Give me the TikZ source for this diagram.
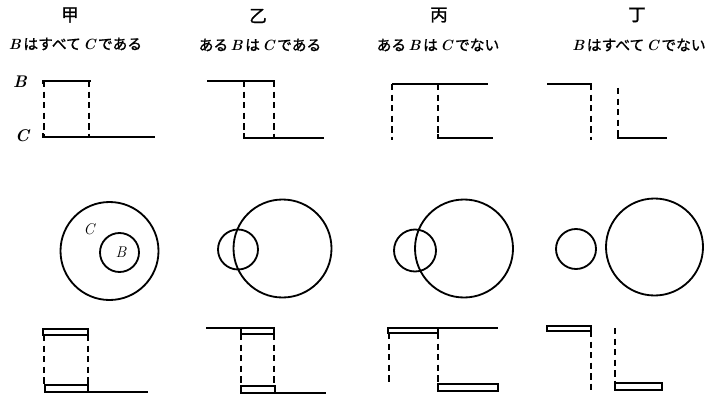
\documentclass[tikz,border=0pt]{standalone}
\usepackage{fontspec}
\newfontfamily\jpfont{Noto Sans CJK JP}[FakeBold=1.2]
\newcommand{\lv}[1]{{\normalfont\bfseries\itshape #1}}
\tikzset{
  bar/.style   = {line width=1.4pt},
  dline/.style = {line width=1.4pt, dash pattern=on 4.5pt off 3pt},
  dbl/.style   = {line width=1.1pt},
  ring/.style  = {line width=1.3pt},
  ttl/.style   = {font=\jpfont\fontsize{12.5}{13}\selectfont, inner sep=0pt},
  sub/.style   = {font=\jpfont\fontsize{10.5}{12}\selectfont, inner sep=0pt},
  lbl/.style   = {font=\fontsize{12}{12}\selectfont, inner sep=0pt},
}

\begin{document}
\begin{tikzpicture}[x=0.025cm, y=-0.025cm]
  \useasboundingbox (0,0) rectangle (707,400);
  % titles
  \node[ttl] (tA) at (70,15)  {甲};
  \node[ttl] (tB) at (258,16) {乙};
  \node[ttl] (tC) at (439,15) {丙};
  \node[ttl] (tD) at (637,15) {丁};
  \node[sub] (sA) at (75.5,44) {\lv{B}\,はすべて\,\lv{C}\,である};
  \node[sub] (sB) at (260,45)  {ある\,\lv{B}\,は\,\lv{C}\,である};
  \node[sub] (sC) at (438,45)  {ある\,\lv{B}\,は\,\lv{C}\,でない};
  \node[sub] (sD) at (639,45)  {\lv{B}\,はすべて\,\lv{C}\,でない};
  % top row: line diagrams
  \node[lbl] (lB) at (20,82)  {\lv{B}};
  \node[lbl] (lC) at (22,136) {\lv{C}};
  \draw[bar] (43,84) -- (43,81) -- (91,81);
  \draw[dline] (44,81) -- (44,137);
  \draw[dline] (89,81) -- (89,137);
  \draw[bar] (43,133) -- (43,137) -- (155,137);
  \draw[bar] (207,81) -- (275,81);
  \draw[dline] (244,81) -- (244,137);
  \draw[dline] (274,81) -- (274,137);
  \draw[bar] (244,133) -- (244,138) -- (324,138);
  \draw[bar] (392,84) -- (488,84);
  \draw[dline] (392,84) -- (392,140);
  \draw[dline] (438,84) -- (438,138);
  \draw[bar] (438,134) -- (438,138) -- (493,138);
  \draw[bar] (547,84) -- (591,84) -- (591,88);
  \draw[dline] (591,84) -- (591,140);
  \draw[dline] (618,88) -- (618,138);
  \draw[bar] (618,134) -- (618,138) -- (667,138);
  % middle row: circles
  \draw[ring] (109.5,251) circle (49);
  \draw[ring] (119.5,252.5) circle (19.5);
  \node[lbl, font=\fontsize{11}{12}\selectfont\itshape] (cC) at (89,229) {C};
  \node[lbl, font=\fontsize{11}{12}\selectfont\itshape] (cB) at (121,252) {B};
  \draw[ring] (238,249.5) circle (20);
  \draw[ring] (282.5,248.5) circle (49);
  \draw[ring] (415,250.5) circle (21);
  \draw[ring] (464,248.5) circle (49);
  \draw[ring] (576,249) circle (20);
  \draw[ring] (654.5,247) circle (48.5);
  % bottom row: double bars
  \draw[dbl] (43,329) rectangle (88,335);
  \draw[dline] (44,335) -- (44,384);
  \draw[dline] (88,335) -- (88,384);
  \draw[dbl] (45,385) rectangle (88,392);
  \draw[bar] (88,392) -- (148,392);
  \draw[bar] (206,328) -- (241,328);
  \draw[dbl] (241,328) rectangle (274,334);
  \draw[dline] (241,334) -- (241,385);
  \draw[dline] (274,334) -- (274,385);
  \draw[dbl] (241,386) rectangle (275,393);
  \draw[bar] (275,393) -- (326,393);
  \draw[dbl] (388,328) rectangle (438,333);
  \draw[bar] (438,328) -- (498,328);
  \draw[dline] (389,333) -- (389,383);
  \draw[dline] (438,333) -- (438,384);
  \draw[dbl] (438,384) rectangle (498,391);
  \draw[dbl] (547,326) rectangle (591,331);
  \draw[dline] (591,331) -- (591,390);
  \draw[dline] (615,328) -- (615,381);
  \draw[dbl] (615,383) rectangle (662,390);
\end{tikzpicture}
\end{document}
